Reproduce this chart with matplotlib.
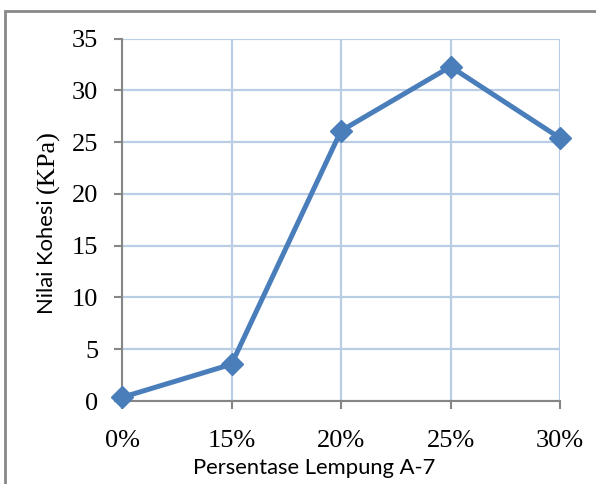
import matplotlib.pyplot as plt
from matplotlib.patches import Rectangle

persen = ['0%', '15%', '20%', '25%', '30%']
kohesi = [0.35, 3.55, 26.1, 32.3, 25.4]
y_ticks = [0, 5, 10, 15, 20, 25, 30, 35]

W, H = 596, 484
fig = plt.figure(figsize=(W / 100, H / 100), dpi=100)
ax = fig.add_axes([122 / W, 1 - 401 / H, (560 - 122) / W, (401 - 38.7) / H])

x = list(range(len(persen)))
ax.plot(x, kohesi, color='#4A7EBB', lw=3.6, marker='D', ms=11,
        solid_joinstyle='miter', zorder=3, clip_on=False)

ax.set_xlim(0, len(persen) - 1)
ax.set_ylim(0, 35)
ax.set_xticks(x)
ax.set_xticklabels(persen)
ax.set_yticks(y_ticks)

ax.grid(True, color='#B9CDE5', lw=1.6)
ax.set_axisbelow(True)
for s in ['top', 'right']:
    ax.spines[s].set_visible(False)
for s in ['left', 'bottom']:
    ax.spines[s].set_color('#868686')
    ax.spines[s].set_linewidth(1.5)

ax.tick_params(axis='both', direction='out', length=6, width=1.5, color='#868686',
               labelsize=19)
ax.tick_params(axis='y', pad=11)
ax.tick_params(axis='x', pad=15)
for lab in ax.get_xticklabels() + ax.get_yticklabels():
    lab.set_family('Liberation Serif')

# judul sumbu
fig.text(314 / W, 1 - 468 / H, 'Persentase Lempung A-7', family='Lato',
         fontsize=15.8, ha='center', va='center')
t1 = fig.text(47 / W, 1 - 314 / H, 'Nilai Kohesi', family='Lato', fontsize=15.8,
              rotation=90, ha='center', va='bottom')
bb = t1.get_window_extent(fig.canvas.get_renderer())
fig.text(48 / W, (bb.y1 + 6) / H, '(KPa)', family='Liberation Serif', fontsize=19,
         rotation=90, ha='center', va='bottom')

# bingkai luar
fig.patches.append(Rectangle((5 / W, -0.1), 1.2, 1 - 11 / H + 0.1,
                             transform=fig.transFigure, fill=False,
                             ec='#888888', lw=2))

fig.savefig('out.png', dpi=100)
